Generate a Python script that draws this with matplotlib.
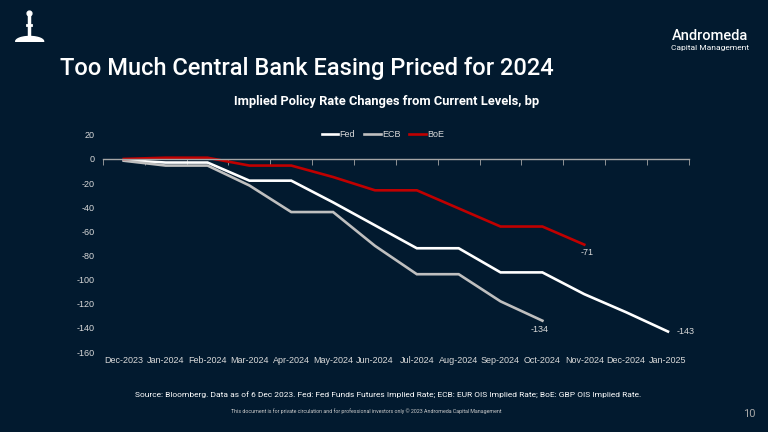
import numpy as np
import matplotlib
matplotlib.use("Agg")
import matplotlib.pyplot as plt

plt.rcParams["axes.unicode_minus"] = False

months = ["Dec-2023", "Jan-2024", "Feb-2024", "Mar-2024", "Apr-2024", "May-2024", "Jun-2024",
          "Jul-2024", "Aug-2024", "Sep-2024", "Oct-2024", "Nov-2024", "Dec-2024", "Jan-2025"]
fed = [-1, -3, -3, -18, -18, -36, -55, -74, -74, -94, -94, -112, -127, -143]
ecb = [-1.5, -5.5, -5.5, -22, -44, -44, -72, -95.5, -95.5, -118, -134]
boe = [0, 1, 1, -5.5, -5.5, -15, -26, -26, -41, -56, -56, -71]

bg = "#021a2f"
tick_col = "#d9d9d9"

fig = plt.figure(figsize=(7.68, 4.32), dpi=100, facecolor=bg)
ax = fig.add_axes([0.134, 0.185, 0.763, 0.503], facecolor=bg)

x = np.arange(len(months))
ax.plot(x[:len(fed)], fed, color="white", lw=1.9, label="Fed", solid_joinstyle="miter")
ax.plot(x[:len(ecb)], ecb, color="#bfbfbf", lw=1.9, label="ECB", solid_joinstyle="miter")
ax.plot(x[:len(boe)], boe, color="#c00000", lw=1.9, label="BoE", solid_joinstyle="miter")

# end labels
ax.annotate(f"{fed[-1]:.0f}", (x[len(fed) - 1], fed[-1]), xytext=(6, 0), textcoords="offset points",
            color=tick_col, fontsize=6.5, va="center", ha="left", family="Liberation Sans")
ax.annotate(f"{ecb[-1]:.0f}", (x[len(ecb) - 1], ecb[-1]), xytext=(-2, -6), textcoords="offset points",
            color=tick_col, fontsize=6.5, va="center", ha="center", family="Liberation Sans")
ax.annotate(f"{boe[-1]:.0f}", (x[len(boe) - 1], boe[-1]), xytext=(2, -6), textcoords="offset points",
            color=tick_col, fontsize=6.5, va="center", ha="center", family="Liberation Sans")

ax.set_xlim(-0.5, len(months) - 0.5)
ax.set_ylim(-160, 20)
ax.set_yticks(np.arange(-160, 21, 20))
ax.tick_params(axis="y", length=0, colors=tick_col, labelsize=6.5, pad=6)
for lab in ax.get_yticklabels():
    lab.set_family("Liberation Sans")

for s in ["left", "right", "top"]:
    ax.spines[s].set_visible(False)
ax.spines["bottom"].set_position(("data", 0))
ax.spines["bottom"].set_color("#a6a6a6")
ax.spines["bottom"].set_linewidth(1)
ax.set_xticks(x)
ax.set_xticklabels([])
ax.tick_params(axis="x", which="major", length=0)
ax.set_xticks(np.arange(-0.5, len(months), 1), minor=True)
ax.tick_params(axis="x", which="minor", length=4, color="#a6a6a6", direction="out")

sec = ax.secondary_xaxis(0)
sec.set_xticks(x)
sec.set_xticklabels(months)
sec.spines["bottom"].set_visible(False)
sec.tick_params(length=0, colors=tick_col, labelsize=6.5, pad=3)
for lab in sec.get_xticklabels():
    lab.set_family("Liberation Sans")

leg = ax.legend(loc="center", bbox_to_anchor=(0.478, 1.0), ncol=3, frameon=False,
                handlelength=1.8, columnspacing=1.0, handletextpad=0.15,
                prop={"family": "Liberation Sans", "size": 6.5})
for t in leg.get_texts():
    t.set_color(tick_col)

fig.text(0.078, 0.842, "Too Much Central Bank Easing Priced for 2024", color="white",
         fontsize=17, family="Roboto", fontweight="medium", va="center", ha="left")
fig.text(0.503, 0.766, "Implied Policy Rate Changes from Current Levels, bp", color="white",
         fontsize=9.3, family="Roboto", fontweight="bold", va="center", ha="center")
fig.text(0.925, 0.916, "Andromeda", color="white", fontsize=10.5, family="Roboto",
         fontweight="medium", va="center", ha="center")
fig.text(0.925, 0.888, "Capital Management", color="white", fontsize=6, family="Roboto",
         va="center", ha="center")
fig.text(0.176, 0.086, "Source: Bloomberg. Data as of 6 Dec 2023. Fed: Fed Funds Futures Implied Rate; "
         "ECB: EUR OIS Implied Rate; BoE: GBP OIS Implied Rate.", color="white",
         fontsize=6.05, family="Roboto", va="center", ha="left")
fig.text(0.477, 0.048, "This document is for private circulation and for professional investors only "
         "\u00a9 2023 Andromeda Capital Management", color="#cccccc", fontsize=3.8,
         family="Roboto", va="center", ha="center")
fig.text(0.975, 0.042, "10", color="#a6a6a6", fontsize=8, family="Roboto", va="center", ha="center")

# small logo mark
logo = fig.add_axes([0.018, 0.905, 0.04, 0.075])
logo.set_axis_off()
t = np.linspace(0, np.pi, 50)
logo.fill_between(np.cos(t), 0, 0.25 * np.sin(t), color="white")
logo.plot([0, 0], [0.2, 1.3], color="white", lw=2.5)
logo.plot([-0.15, 0.15], [0.8, 0.8], color="white", lw=2)
logo.scatter([0], [1.4], s=12, color="white")
logo.set_xlim(-1.1, 1.1)
logo.set_ylim(0, 1.6)

fig.savefig("out.png", dpi=100, facecolor=bg)
